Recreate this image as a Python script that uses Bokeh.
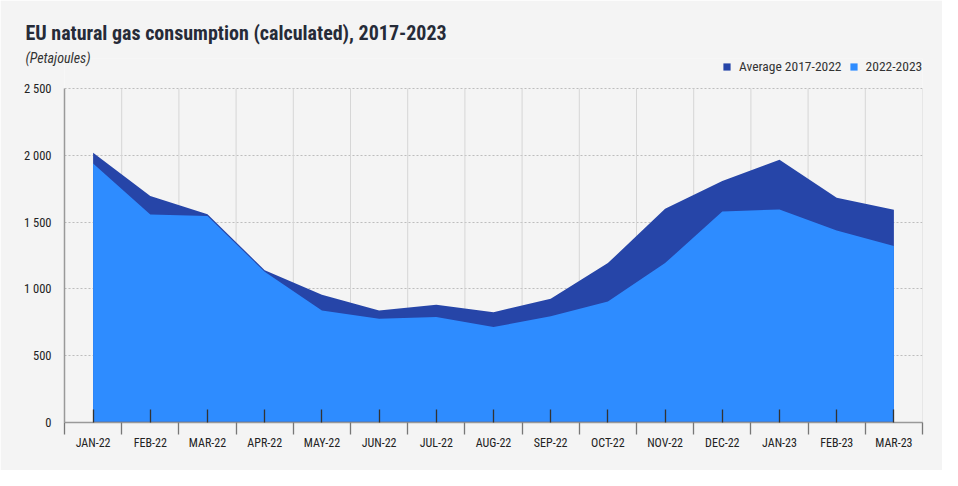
from bokeh.plotting import figure
from bokeh.models import (Range1d, FixedTicker, Legend, LegendItem, Title)
from bokeh.embed import file_html
from bokeh.resources import INLINE

months = ["JAN-22", "FEB-22", "MAR-22", "APR-22", "MAY-22", "JUN-22", "JUL-22",
          "AUG-22", "SEP-22", "OCT-22", "NOV-22", "DEC-22", "JAN-23", "FEB-23", "MAR-23"]
avg_2017_2022 = [2020, 1695, 1558, 1140, 956, 839, 882, 826, 926, 1193, 1600, 1808, 1967, 1683, 1593]
val_2022_2023 = [1938, 1556, 1545, 1128, 839, 777, 789, 714, 796, 906, 1193, 1580, 1595, 1438, 1321]
y_ticks = [0, 500, 1000, 1500, 2000, 2500]
y_tick_labels = ["0", "500", "1 000", "1 500", "2 000", "2 500"]

FONT = "Roboto Condensed"
BG = "#f4f4f4"
DARK = "#2645a8"
LIGHT = "#2e8cff"

W, H = 942, 470
LEFT, RIGHT, TOP, BOTTOM = 64, 20, 58, 48
frame_h = H - TOP - BOTTOM
head_px = 30  # empty band in the frame above the top gridline

n = len(months)
xs = [i + 0.5 for i in range(n)]
bounds = list(range(n + 1))
y_top = y_ticks[-1]
y_end = y_top * frame_h / (frame_h - head_px)

p = figure(width=W, height=H, output_backend="svg", toolbar_location=None,
           x_range=Range1d(0, n), y_range=Range1d(0, y_end),
           min_border_left=LEFT, min_border_right=RIGHT,
           min_border_top=TOP, min_border_bottom=BOTTOM)
p.background_fill_color = BG
p.border_fill_color = BG
p.outline_line_color = None

# vertical grid lines (only up to the top tick)
p.segment(x0=bounds, y0=[0] * len(bounds), x1=bounds, y1=[y_top] * len(bounds),
          line_color="#d6d6d6", line_width=1)

r_avg = p.varea(x=xs, y1=[0] * n, y2=avg_2017_2022, fill_color=DARK)
r_cur = p.varea(x=xs, y1=[0] * n, y2=val_2022_2023, fill_color=LIGHT)
p.line(x=xs, y=[0] * n, line_color="#2a3f8f", line_width=1.5)

# x axis
xa = p.xaxis[0]
xa.ticker = FixedTicker(ticks=xs, minor_ticks=bounds)
xa.major_label_overrides = {x: m for x, m in zip(xs, months)}
xa.major_tick_in = 13
xa.major_tick_out = 0
xa.major_tick_line_color = "#333333"
xa.major_tick_line_width = 1.3
xa.minor_tick_in = 0
xa.minor_tick_out = 12
xa.minor_tick_line_color = "#777777"
xa.minor_tick_line_width = 1.3
xa.axis_line_color = "#999999"
xa.axis_line_width = 1.5
xa.major_label_standoff = 1
xa.major_label_text_font = FONT
xa.major_label_text_font_size = "12px"
xa.major_label_text_color = "#222222"

# y axis
ya = p.yaxis[0]
ya.ticker = FixedTicker(ticks=y_ticks)
ya.bounds = (0, y_top)
ya.major_label_overrides = {t: l for t, l in zip(y_ticks, y_tick_labels)}
ya.major_tick_in = 0
ya.major_tick_out = 0
ya.minor_tick_line_color = None
ya.axis_line_color = "#999999"
ya.axis_line_width = 1.5
ya.major_label_standoff = 13
ya.major_label_text_font = FONT
ya.major_label_text_font_size = "12.5px"
ya.major_label_text_color = "#222222"

p.xgrid.grid_line_color = None
p.ygrid.grid_line_color = "#bdbdbd"
p.ygrid.grid_line_dash = "2 2"
p.ygrid.grid_line_width = 1

# titles (closest to the frame first)
p.add_layout(Title(text="(Petajoules)", text_font=FONT,
                   text_font_style="italic", text_font_size="14px",
                   text_color="#333333", align="left", offset=-39, standoff=-14), "above")
p.add_layout(Title(text="EU natural gas consumption (calculated), 2017-2023",
                   text_font=FONT, text_font_style="bold",
                   text_font_size="20px", text_color="#262b38",
                   align="left", offset=-39, standoff=20), "above")

legend = Legend(items=[LegendItem(label="Average 2017-2022", renderers=[r_avg]),
                       LegendItem(label="2022-2023", renderers=[r_cur])],
                location=(658, 348), orientation="horizontal",
                glyph_width=9, glyph_height=9, label_standoff=8, spacing=7,
                padding=0, margin=0, border_line_color=None,
                background_fill_alpha=0,
                label_text_font=FONT, label_text_font_size="13.5px",
                label_text_color="#333333")
p.add_layout(legend)

open("out.html", "w").write(file_html(p, INLINE))
